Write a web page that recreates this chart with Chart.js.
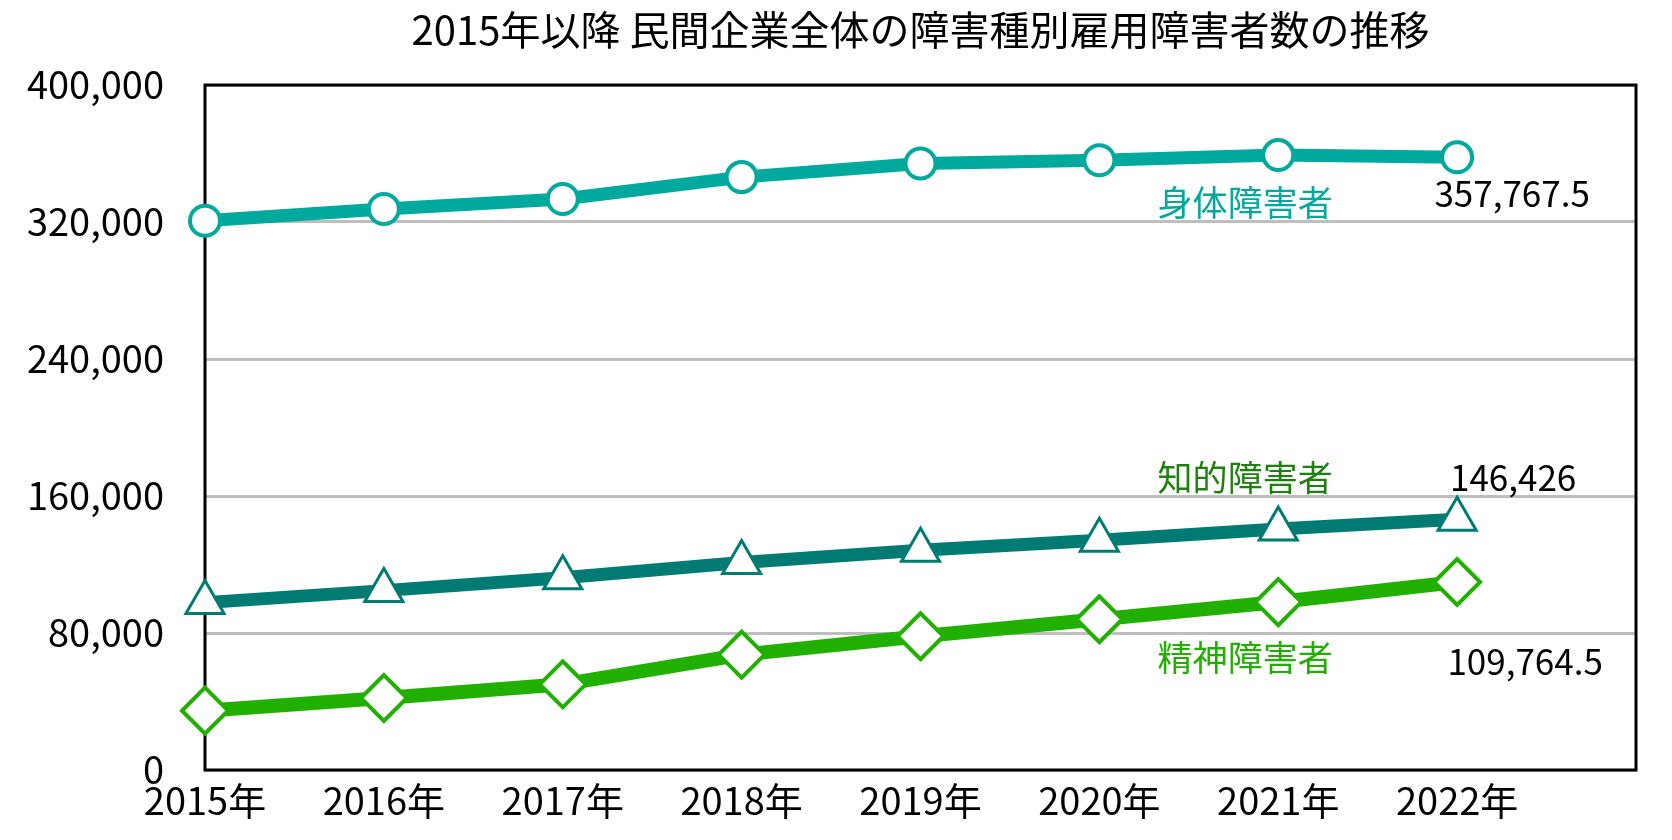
<!DOCTYPE html>
<html lang="ja">
<head>
<meta charset="utf-8">
<script src="https://cdn.jsdelivr.net/npm/chart.js@4/dist/chart.umd.min.js"></script>
<style>
  html, body { margin: 0; padding: 0; background: #ffffff; }
  #wrap { width: 1672px; height: 840px; position: relative; }
</style>
</head>
<body>
<div id="wrap"><canvas id="c"></canvas></div>
<script>
// ---- data ----
const years = ['2015年', '2016年', '2017年', '2018年', '2019年', '2020年', '2021年', '2022年'];
const seriesNames = ['身体障害者', '知的障害者', '精神障害者'];
const physical = [320752.5, 327600, 333454, 346208, 354134, 356069.5, 359067.5, 357767.5];
const intellectual = [97744, 104746, 112293.5, 121166.5, 128383.5, 134207, 140665, 146426];
const mental = [34637.5, 42028, 50047.5, 67395, 78091.5, 88016, 98053.5, 109764.5];
const yTicks = [0, 80000, 160000, 240000, 320000, 400000];
const chartTitle = '2015年以降 民間企業全体の障害種別雇用障害者数の推移';

const FONT = '"Noto Sans CJK JP", "Noto Sans", sans-serif';
const fmt = v => v.toLocaleString('en-US', { maximumFractionDigits: 1 });

// styles for end labels (offsets in px relative to the last point)
const labelStyle = [
  { color: '#00A99D', nameDx: -212, nameDy: 45, valDx: 55, valDy: 36 },
  { color: '#1F800F', nameDx: -212, nameDy: -42, valDx: 56, valDy: -42 },
  { color: '#22AE00', nameDx: -212, nameDy: 76, valDx: 68, valDy: 80 }
];

const frame = {
  id: 'frame',
  beforeDatasetsDraw(chart) {
    const { ctx, chartArea: a } = chart;
    ctx.save();
    ctx.strokeStyle = '#000';
    ctx.lineWidth = 3;
    ctx.strokeRect(a.left, a.top, a.right - a.left, a.bottom - a.top);
    ctx.restore();
  },
  afterDatasetsDraw(chart) {
    const { ctx } = chart;
    const xs = chart.scales.x, ys = chart.scales.y;
    ctx.save();
    ctx.textAlign = 'center';
    ctx.textBaseline = 'middle';
    chart.data.datasets.forEach((ds, i) => {
      const last = ds.data.length - 1;
      const v = ds.data[last];
      const px = xs.getPixelForValue(last);
      const py = ys.getPixelForValue(v);
      const st = labelStyle[i];
      ctx.font = '35px ' + FONT;
      ctx.fillStyle = st.color;
      ctx.fillText(seriesNames[i], px + st.nameDx, py + st.nameDy);
      ctx.fillStyle = '#000';
      ctx.fillText(fmt(v), px + st.valDx, py + st.valDy);
    });
    ctx.restore();
  }
};

const common = { tension: 0, fill: false, pointBackgroundColor: '#fff', clip: false };

new Chart(document.getElementById('c'), {
  type: 'line',
  data: {
    labels: [...years, ''],
    datasets: [
      { ...common, label: seriesNames[0], data: physical, borderColor: '#00A99D', borderWidth: 13,
        pointStyle: 'circle', pointRadius: 15, pointBorderWidth: 4, pointBorderColor: '#00A99D' },
      { ...common, label: seriesNames[1], data: intellectual, borderColor: '#007B73', borderWidth: 13,
        pointStyle: 'triangle', pointRadius: 22, pointBorderWidth: 3, pointBorderColor: '#007B73' },
      { ...common, label: seriesNames[2], data: mental, borderColor: '#22B000', borderWidth: 14,
        pointStyle: 'rectRot', pointRadius: 23, pointBorderWidth: 4, pointBorderColor: '#22B000' }
    ]
  },
  options: {
    responsive: true,
    maintainAspectRatio: false,
    animation: false,
    layout: { padding: { left: 0, right: 36, top: 0, bottom: 0 } },
    plugins: {
      legend: { display: false },
      tooltip: { enabled: false },
      title: {
        display: true, text: chartTitle, fullSize: false, color: '#000',
        font: { family: FONT, size: 40, weight: 'normal', lineHeight: 1.2 },
        padding: { top: 6, bottom: 31 }
      }
    },
    scales: {
      x: {
        type: 'category', offset: false,
        grid: { display: false, drawTicks: false },
        border: { display: false },
        ticks: { color: '#000', autoSkip: false, maxRotation: 0, padding: 8,
                 font: { family: FONT, size: 38 } },
        afterFit(s) { s.height = 70; }
      },
      y: {
        min: 0, max: 400000,
        afterBuildTicks(s) { s.ticks = yTicks.map(v => ({ value: v })); },
        grid: { color: '#BEBEBE', lineWidth: 3, drawTicks: false },
        border: { display: false },
        ticks: { color: '#000', padding: 41, font: { family: FONT, size: 38 },
                 callback: v => fmt(v) },
        afterFit(s) { s.width = 205; }
      }
    }
  },
  plugins: [frame]
});
</script>
</body>
</html>
